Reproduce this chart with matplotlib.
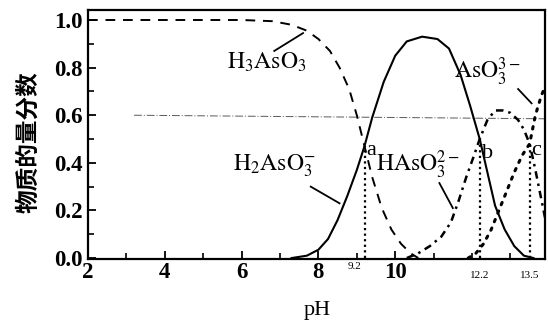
import numpy as np
import matplotlib.pyplot as plt

plt.rcParams['mathtext.fontset'] = 'stix'
plt.rcParams['font.family'] = ['Liberation Serif', 'Noto Sans CJK SC', 'DejaVu Sans']

# distribution curves read as (pH, fraction) pairs
ph_h3 = [2.0, 4.0, 6.0, 6.8, 7.3, 7.7, 8.0, 8.3, 8.55, 8.8, 9.0, 9.2, 9.4, 9.65, 9.9, 10.15, 10.4, 10.6]
fr_h3 = [1.0, 1.0, 1.0, 0.995, 0.98, 0.955, 0.92, 0.87, 0.8, 0.71, 0.6, 0.47, 0.34, 0.21, 0.12, 0.06, 0.02, 0.0]

ph_h2 = [7.3, 7.7, 8.0, 8.25, 8.5, 8.75, 9.0, 9.2, 9.4, 9.7, 10.0, 10.3, 10.7, 11.1, 11.4, 11.7, 11.95, 12.2, 12.4, 12.6, 12.85, 13.1, 13.35, 13.6]
fr_h2 = [0.0, 0.01, 0.035, 0.08, 0.16, 0.26, 0.37, 0.47, 0.59, 0.74, 0.85, 0.91, 0.93, 0.92, 0.88, 0.77, 0.64, 0.5, 0.36, 0.22, 0.12, 0.05, 0.01, 0.0]

ph_h1 = [10.3, 10.6, 10.9, 11.2, 11.45, 11.65, 11.85, 12.05, 12.2, 12.4, 12.6, 12.8, 13.0, 13.2, 13.35, 13.5, 13.65, 13.8, 13.9]
fr_h1 = [0.0, 0.02, 0.05, 0.09, 0.15, 0.24, 0.34, 0.43, 0.5, 0.58, 0.62, 0.62, 0.61, 0.58, 0.54, 0.48, 0.37, 0.25, 0.17]

ph_as = [11.9, 12.1, 12.3, 12.5, 12.7, 12.9, 13.1, 13.3, 13.5, 13.65, 13.8, 13.9]
fr_as = [0.0, 0.02, 0.06, 0.12, 0.2, 0.28, 0.36, 0.43, 0.48, 0.6, 0.68, 0.72]

# crossing points a, b, c
pts_ph = [9.2, 12.2, 13.5]
pts_fr = [0.47, 0.5, 0.48]
pts_lab = ['a', 'b', 'c']

fig = plt.figure(figsize=(5.48, 3.25), dpi=100)
ax = fig.add_axes([88 / 548, 1 - 259 / 325, 457 / 548, 249 / 325])

# faint ruled line across the page
ax.plot([3.2, 13.9], [0.6, 0.585], color='0.35', lw=0.7, ls=(0, (8, 2, 1, 2)), zorder=1)

ax.plot(ph_h3, fr_h3, color='k', lw=1.4, ls=(0, (5, 4)))
ax.plot(ph_h2, fr_h2, color='k', lw=1.5)
ax.plot(ph_h1, fr_h1, color='k', lw=1.8, ls=(0, (3, 2, 1, 2)))
ax.plot(ph_as, fr_as, color='k', lw=2.2, ls=(0, (0.8, 2.2)), dash_capstyle='round')

lab_dy = [-0.02, -0.06, -0.03]
for x, y, s, dy in zip(pts_ph, pts_fr, pts_lab, lab_dy):
    ax.plot([x, x], [0, y], color='k', lw=1.6, ls=(0, (1, 1.5)))
    ax.text(x + 0.05, y + dy, s, fontsize=16, ha='left', va='center')

# species labels with pointer lines
ax.text(6.65, 0.82, r'$\mathrm{H_3AsO_3}$', fontsize=17, ha='center', va='center')
ax.plot([6.85, 7.6], [0.87, 0.945], color='k', lw=1.3)
ax.text(6.85, 0.39, r'$\mathrm{H_2AsO_3^{-}}$', fontsize=17, ha='center', va='center')
ax.plot([7.8, 8.55], [0.30, 0.23], color='k', lw=1.3)
ax.text(10.6, 0.39, r'$\mathrm{HAsO_3^{2-}}$', fontsize=17, ha='center', va='center')
ax.plot([11.15, 11.5], [0.315, 0.21], color='k', lw=1.3)
ax.text(12.4, 0.78, r'$\mathrm{AsO_3^{3-}}$', fontsize=17, ha='center', va='center')
ax.plot([13.2, 13.55], [0.71, 0.65], color='k', lw=1.3)

ax.set_xlim(2, 13.9)
ax.set_ylim(-0.004, 1.042)
ax.set_xticks([2, 4, 6, 8, 10])
ax.set_xticks([3, 5, 7, 9, 11, 12, 13], minor=True)
ax.set_yticks([0.0, 0.2, 0.4, 0.6, 0.8, 1.0])
ax.set_yticks([0.1, 0.3, 0.5, 0.7, 0.9], minor=True)
ax.set_xticklabels(['2', '4', '6', '8', '10'], fontsize=16.5, fontweight='bold')
ax.set_yticklabels(['0.0', '0.2', '0.4', '0.6', '0.8', '1.0'], fontsize=16.5, fontweight='bold')
ax.tick_params(which='major', direction='in', length=6, width=1.3, pad=4)
ax.tick_params(axis='x', which='major', pad=2)
ax.tick_params(which='minor', direction='in', length=4, width=1.2)
for sp in ax.spines.values():
    sp.set_linewidth(1.6)

# small marks under the axis
for x, s, dy in zip(pts_ph, ['9.2', '12.2', '13.5'], [-0.035, -0.075, -0.075]):
    ax.text(x - (0.25 if x < 10 else 0.0), dy, s, fontsize=8, ha='center', va='center', clip_on=False)

fig.text(317 / 548, 1 - 311 / 325, 'pH', fontsize=16, ha='center', va='center')
fig.text(28 / 548, 1 - 142 / 325, '物质的量分数', fontsize=17, fontweight='bold', rotation=90,
         ha='center', va='center', family=['Noto Sans CJK SC', 'DejaVu Sans'])

fig.savefig('out.png', dpi=100)
